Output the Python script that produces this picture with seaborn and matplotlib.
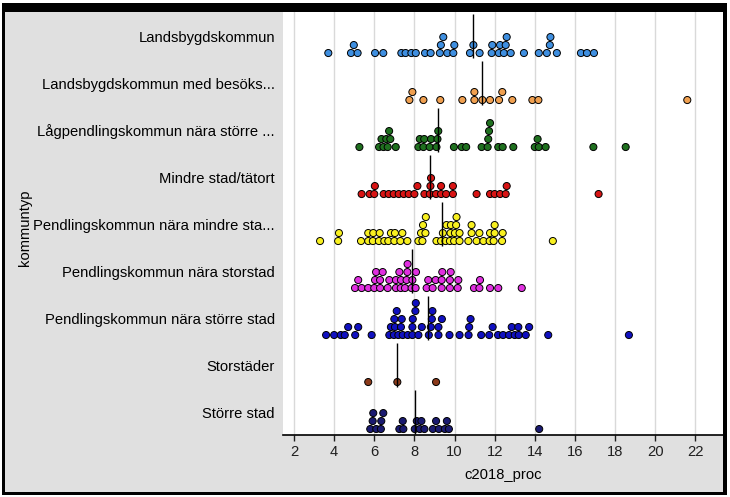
import numpy as np
import pandas as pd
import seaborn as sns
import matplotlib.pyplot as plt
from matplotlib.patches import Rectangle

# kategorier (uppifrån och ned) och deras färger
kategorier = ['Landsbygdskommun',
              'Landsbygdskommun med besöks...',
              'Lågpendlingskommun nära större ...',
              'Mindre stad/tätort',
              'Pendlingskommun nära mindre sta...',
              'Pendlingskommun nära storstad',
              'Pendlingskommun nära större stad',
              'Storstäder',
              'Större stad']
farger = ['#3f8fe0', '#f0a050', '#1f701f', '#d81414', '#f8f020',
          '#e030e0', '#1010c0', '#8b3a1a', '#1a1a70']

# c2018_proc per kommuntyp
landsbygd = [3.71, 4.84, 4.98, 5.17, 6.04, 6.45, 7.35, 7.56, 7.85, 8.07, 8.53, 8.81,
             9.27, 9.32, 9.44, 9.64, 9.94, 9.99, 10.77, 10.94, 11.25, 11.85, 11.88,
             12.21, 12.27, 12.46, 12.55, 12.6, 12.8, 13.46, 14.2, 14.6, 14.75, 14.78,
             15.1, 16.3, 16.6, 16.95]
besoksnaring = [7.75, 7.9, 8.45, 9.29, 10.39, 10.99, 10.99, 11.39, 11.77, 12.22,
                12.38, 12.88, 13.88, 14.18, 21.6]
lagpendling = [5.26, 6.24, 6.36, 6.46, 6.6, 6.67, 6.74, 6.8, 7.07, 8.2, 8.27, 8.45,
               8.49, 8.76, 8.83, 9.1, 9.15, 9.19, 9.97, 10.36, 10.58, 11.35, 11.65,
               11.68, 11.72, 11.77, 12.18, 12.4, 12.93, 14.0, 14.14, 14.2, 14.54,
               16.92, 18.53]
mindre_stad = [5.37, 5.77, 6.0, 6.03, 6.47, 6.72, 6.97, 7.22, 7.47, 7.72, 8.0, 8.15,
               8.5, 8.77, 8.8, 8.83, 9.08, 9.33, 9.33, 9.58, 9.92, 9.92, 11.1, 11.77,
               12.0, 12.27, 12.55, 12.6, 17.18]
pendl_mindre = [3.3, 4.2, 4.24, 5.34, 5.7, 5.7, 5.93, 5.95, 6.23, 6.27, 6.5, 6.7,
                6.83, 7.0, 7.03, 7.3, 7.4, 7.65, 8.2, 8.33, 8.4, 8.43, 8.55, 8.57,
                9.1, 9.33, 9.42, 9.55, 9.6, 9.77, 9.8, 9.82, 9.98, 10.02, 10.08, 10.1,
                10.25, 10.25, 10.69, 10.85, 10.85, 11.1, 11.24, 11.44, 11.75, 11.77,
                11.95, 12.0, 12.0, 12.37, 12.4, 14.9]
pendl_storstad = [5.04, 5.2, 5.37, 5.7, 6.0, 6.04, 6.09, 6.29, 6.29, 6.42, 6.67,
                  6.75, 7.08, 7.08, 7.25, 7.32, 7.33, 7.53, 7.61, 7.65, 7.66, 7.86,
                  7.9, 8.06, 8.08, 8.61, 8.69, 8.91, 9.06, 9.36, 9.36, 9.39, 9.77,
                  9.77, 9.81, 10.16, 10.19, 10.97, 11.24, 11.27, 11.77, 12.18, 13.35]
pendl_storre = [3.6, 4.0, 4.33, 4.53, 4.7, 5.05, 5.2, 5.87, 6.75, 6.83, 6.98, 7.0,
                7.03, 7.12, 7.2, 7.33, 7.37, 7.42, 7.67, 7.9, 7.9, 7.92, 8.05, 8.07,
                8.2, 8.37, 8.72, 8.82, 8.87, 8.9, 9.2, 9.2, 9.37, 9.75, 10.25, 10.7,
                10.73, 10.8, 11.33, 11.73, 11.9, 12.17, 12.42, 12.72, 12.85, 13.0,
                13.18, 13.2, 13.55, 13.72, 14.67, 18.69]
storstader = [5.7, 7.15, 9.08]
storre_stad = [5.8, 5.92, 5.95, 6.1, 6.33, 6.35, 6.45, 7.25, 7.42, 7.45, 8.02, 8.12,
               8.27, 8.35, 8.5, 8.92, 9.08, 9.22, 9.52, 9.62, 9.72, 14.22]
varden = [landsbygd, besoksnaring, lagpendling, mindre_stad, pendl_mindre,
          pendl_storstad, pendl_storre, storstader, storre_stad]

# medianlinjerna
medianer = [10.9, 11.38, 9.19, 8.78, 9.38, 7.9, 8.7, 7.15, 8.02]


def stapla(vals, t=0.2):
    # lägg varje punkt på lägsta nivå där den inte krockar
    sista = []
    nivaer = []
    vals = sorted(vals)
    for v in vals:
        for k, s in enumerate(sista):
            if v - s >= t - 1e-9:
                sista[k] = v
                nivaer.append(k)
                break
        else:
            sista.append(v)
            nivaer.append(len(sista) - 1)
    return vals, nivaer


rows = []
for i, (kat, vals) in enumerate(zip(kategorier, varden)):
    for v, niva in zip(*stapla(vals)):
        rows.append({'kommuntyp': kat, 'c2018_proc': v, 'rad': i, 'niva': niva})
df = pd.DataFrame(rows)
df['y'] = df['rad'] + 0.362 - df['niva'] * 0.170

plt.rcParams['font.family'] = ['Liberation Sans', 'DejaVu Sans']
plt.rcParams['font.size'] = 10.6

W, H = 730, 497
fig = plt.figure(figsize=(W / 100, H / 100), dpi=100)
fig.patch.set_facecolor('white')
fig.add_artist(Rectangle((2 / W, 1 - 495 / H), 725 / W, 492 / H,
                         transform=fig.transFigure, facecolor='black',
                         edgecolor='none', zorder=-2))
fig.add_artist(Rectangle((5 / W, 1 - 492 / H), 718 / W, 480 / H,
                         transform=fig.transFigure, facecolor='#e0e0e0',
                         edgecolor='none', zorder=-1))

ax = fig.add_axes([283 / W, 1 - 435 / H, 440 / W, 423 / H])
ax.set_facecolor('white')

sns.scatterplot(data=df, x='c2018_proc', y='y', hue='kommuntyp',
                hue_order=kategorier, palette=farger, s=26,
                edgecolor='black', linewidth=0.7, legend=False, ax=ax, zorder=2)

rader = np.arange(len(kategorier))
ax.vlines(medianer, rader - 0.468, rader + 0.468, color='black', lw=1, zorder=3)

ax.set_xlim(1.452, 23.38)
ax.set_ylim(8.489, -0.511)
ax.set_xticks(range(2, 23, 2))
ax.grid(axis='x', color='#d9d9d9', lw=1)
ax.set_axisbelow(True)
ax.set_yticks(rader)
ax.set_yticklabels(kategorier)
ax.tick_params(axis='y', length=0, pad=5.8)
ax.tick_params(axis='x', length=4, width=1, direction='out', pad=3, colors='#202020')

for side in ['top', 'left', 'right']:
    ax.spines[side].set_visible(False)
ax.spines['bottom'].set_color('black')
ax.spines['bottom'].set_linewidth(1.2)

ax.set_xlabel('c2018_proc')
ax.xaxis.label.set_va('center')
ax.xaxis.set_label_coords(0.5, -0.0946)
ax.set_ylabel('kommuntyp')
ax.yaxis.label.set_va('center')
ax.yaxis.set_label_coords(-0.586, 0.49)

fig.savefig('out.png', dpi=100)
